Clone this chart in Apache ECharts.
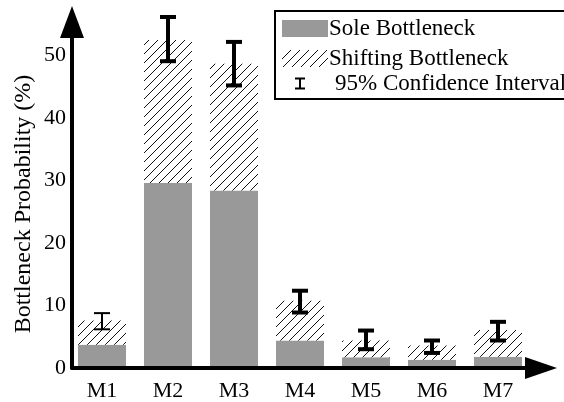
<!DOCTYPE html>
<html>
<head>
<meta charset="utf-8">
<script src="https://cdn.jsdelivr.net/npm/echarts@6/dist/echarts.min.js"></script>
<style>
  html, body { margin: 0; padding: 0; background: #fff; }
  #chart { width: 564px; height: 402px; }
</style>
</head>
<body>
<div id="chart"></div>
<script>
// Machines on the horizontal axis
const machines = ['M1', 'M2', 'M3', 'M4', 'M5', 'M6', 'M7'];
// Probability (%) that each machine is the sole bottleneck
const soleBottleneck = [3.4, 29.4, 28.2, 4.1, 1.4, 1.0, 1.5];
// Additional probability (%) that it is a shifting bottleneck
const shiftingBottleneck = [3.9, 23.0, 20.4, 6.4, 2.7, 2.3, 4.3];
// 95% confidence interval bounds (%) on the total bottleneck probability
const ciLower = [5.9, 49.0, 45.1, 8.6, 2.7, 2.1, 4.1];
const ciUpper = [8.5, 56.1, 52.1, 12.1, 5.7, 4.1, 7.1];
// Labelled y ticks
const yTicks = [0, 10, 20, 30, 40, 50];
const yMax = 55.3;

const FONT = "'Liberation Serif', 'Times New Roman', serif";

// Diagonal hatch tile for the shifting-bottleneck fill
function hatchPattern() {
  const s = 9;
  const c = document.createElement('canvas');
  c.width = s; c.height = s;
  const g = c.getContext('2d');
  g.fillStyle = '#fff';
  g.fillRect(0, 0, s, s);
  g.strokeStyle = '#111';
  g.lineWidth = 1;
  g.beginPath();
  g.moveTo(0, s); g.lineTo(s, 0);
  g.moveTo(-1, 1); g.lineTo(1, -1);
  g.moveTo(s - 1, s + 1); g.lineTo(s + 1, s - 1);
  g.stroke();
  return { image: c, repeat: 'repeat' };
}
const hatch = hatchPattern();

const ciData = ciLower.map((lo, i) => [i, lo, ciUpper[i]]);

// I-shaped whisker used in the legend
const whiskerIcon = 'path://M0,0H10V2H6V10H10V12H0V10H4V2H0Z';

const chart = echarts.init(document.getElementById('chart'), null, { renderer: 'canvas' });

chart.setOption({
  animation: false,
  backgroundColor: '#fff',
  textStyle: { fontFamily: FONT, color: '#000' },
  grid: [
    // plotting area for the bars and whiskers
    { left: 69, right: 33, top: 22, bottom: 34 },
    // frame carrying the arrowed axes
    { left: 72, right: 23, top: 22, bottom: 34 }
  ],
  xAxis: [{
    gridIndex: 0,
    type: 'category',
    data: machines,
    axisLine: { show: false },
    axisTick: { show: false },
    axisLabel: { color: '#000', fontFamily: FONT, fontSize: 22, margin: 14 }
  }, {
    gridIndex: 1,
    type: 'value',
    min: 0,
    max: 1,
    splitLine: { show: false },
    axisTick: { show: false },
    axisLabel: { show: false },
    axisLine: {
      onZero: false,
      symbol: ['none', 'triangle'],
      symbolSize: [22, 32],
      lineStyle: { color: '#000', width: 4 }
    }
  }],
  yAxis: [{
    gridIndex: 0,
    type: 'value',
    min: 0,
    max: yMax,
    show: false
  }, {
    gridIndex: 1,
    type: 'value',
    min: 0,
    max: yMax,
    name: 'Bottleneck Probability (%)',
    nameLocation: 'middle',
    nameRotate: 90,
    nameGap: 36,
    nameMoveOverlap: false,
    nameTextStyle: { fontFamily: FONT, fontSize: 24, color: '#000', padding: [0, 18, 0, 0] },
    splitLine: { show: false },
    axisTick: { show: false },
    axisLine: {
      show: true,
      onZero: false,
      symbol: ['none', 'triangle'],
      symbolSize: [24, 32],
      lineStyle: { color: '#000', width: 4 }
    },
    axisLabel: {
      customValues: yTicks,
      color: '#000',
      fontFamily: FONT,
      fontSize: 22,
      margin: 6
    }
  }],
  graphic: [{
    type: 'rect',
    z: 3,
    shape: { x: 275, y: 11, width: 300, height: 88 },
    style: { fill: '#fff', stroke: '#000', lineWidth: 2 }
  }],
  legend: [{
    orient: 'vertical',
    left: 282,
    top: 17,
    itemWidth: 46,
    itemHeight: 17,
    itemGap: 7,
    padding: 0,
    textStyle: { fontFamily: FONT, fontSize: 23, color: '#000', padding: [0, 0, 0, -4] },
    data: [
      { name: 'Sole Bottleneck', icon: 'rect' },
      { name: 'Shifting Bottleneck', icon: 'rect' }
    ]
  }, {
    left: 295,
    top: 72,
    itemWidth: 10,
    itemHeight: 12,
    padding: 0,
    textStyle: { fontFamily: FONT, fontSize: 23, color: '#000', padding: [0, 0, 0, 25] },
    data: [{ name: '95% Confidence Interval', icon: whiskerIcon }]
  }],
  series: [{
    name: 'Sole Bottleneck',
    type: 'bar',
    xAxisIndex: 0,
    yAxisIndex: 0,
    stack: 'total',
    barWidth: 48,
    itemStyle: { color: '#999999' },
    data: soleBottleneck
  }, {
    name: 'Shifting Bottleneck',
    type: 'bar',
    xAxisIndex: 0,
    yAxisIndex: 0,
    stack: 'total',
    barWidth: 48,
    itemStyle: { color: hatch },
    data: shiftingBottleneck
  }, {
    name: '95% Confidence Interval',
    type: 'custom',
    xAxisIndex: 0,
    yAxisIndex: 0,
    itemStyle: { color: '#000' },
    encode: { x: 0, y: [1, 2] },
    renderItem: function (params, api) {
      const x = api.value(0);
      const lo = api.coord([x, api.value(1)]);
      const hi = api.coord([x, api.value(2)]);
      const half = 8;
      const w = params.dataIndex === 0 ? 2 : 4;
      const style = { stroke: '#000', lineWidth: w, fill: null };
      return {
        type: 'group',
        children: [
          { type: 'line', shape: { x1: lo[0], y1: lo[1], x2: hi[0], y2: hi[1] }, style },
          { type: 'line', shape: { x1: lo[0] - half, y1: lo[1], x2: lo[0] + half, y2: lo[1] }, style },
          { type: 'line', shape: { x1: hi[0] - half, y1: hi[1], x2: hi[0] + half, y2: hi[1] }, style }
        ]
      };
    },
    data: ciData,
    z: 5
  }]
});
</script>
</body>
</html>
